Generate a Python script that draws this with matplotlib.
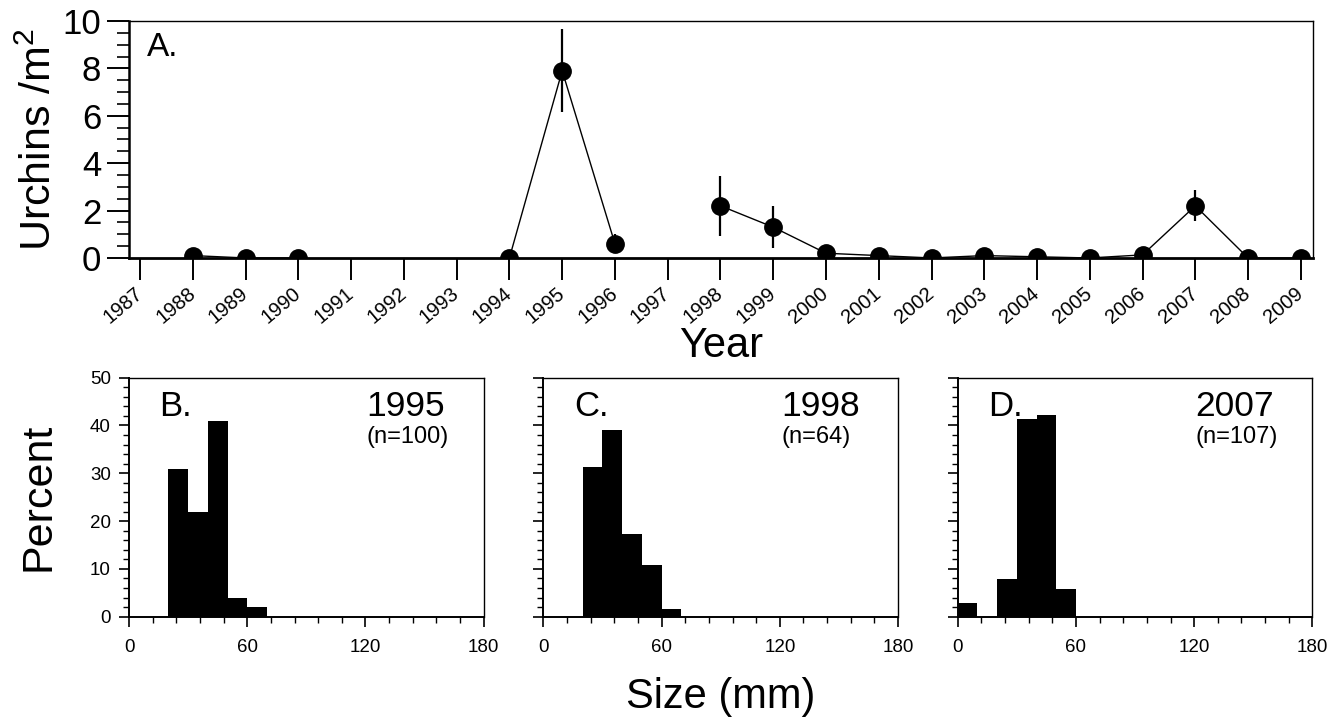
import numpy as np
import matplotlib
matplotlib.use("Agg")
import matplotlib.pyplot as plt
from matplotlib.ticker import MultipleLocator

plt.rcParams['font.family'] = ['Liberation Sans', 'DejaVu Sans']
plt.rcParams['mathtext.default'] = 'regular'

# urchin density per year (nan = no survey)
years = list(range(1987, 2010))
density = [np.nan, 0.1, 0.0, 0.0, np.nan, np.nan, np.nan, 0.0, 7.9, 0.6, np.nan,
           2.2, 1.3, 0.2, 0.1, 0.0, 0.1, 0.05, 0.0, 0.13, 2.2, 0.0, 0.0]
density_err = [0, 0, 0, 0, 0, 0, 0, 0, 1.75, 0.4, 0,
               1.27, 0.9, 0, 0, 0, 0, 0, 0, 0, 0.65, 0, 0]

# size frequency (10 mm bins, left edges)
bins_b = [20, 30, 40, 50, 60]
pct_b = [31, 22, 41, 4, 2]
bins_c = [20, 30, 40, 50, 60]
pct_c = [31.3, 39.1, 17.2, 10.9, 1.6]
bins_d = [0, 20, 30, 40, 50]
pct_d = [2.9, 7.9, 41.3, 42.3, 5.8]

hist_panels = [("B.", "1995", "(n=100)", bins_b, pct_b),
               ("C.", "1998", "(n=64)", bins_c, pct_c),
               ("D.", "2007", "(n=107)", bins_d, pct_d)]

fig = plt.figure(figsize=(13.41, 7.23), dpi=100)

# ---- panel A
ax = fig.add_axes([0.0962, 0.6432, 0.8829, 0.3278])
yrs = np.array(years, dtype=float)
dens = np.array(density)
err = np.array(density_err)
ax.plot(yrs, dens, color='black', lw=1.0, zorder=2)
has_err = err > 0
ax.errorbar(yrs[has_err], dens[has_err], yerr=err[has_err], fmt='none',
            ecolor='black', elinewidth=1.6, capsize=0, zorder=2)
ax.plot(yrs, dens, 'o', color='black', ms=12.5, zorder=3)
ax.set_xlim(1986.79, 2009.23)
ax.set_ylim(0, 10)
ax.set_xticks(years)
ax.set_xticklabels([str(y) for y in years], rotation=40, ha='right',
                   rotation_mode='anchor', va='center', fontsize=14.5)
ax.yaxis.set_major_locator(MultipleLocator(2))
ax.yaxis.set_minor_locator(MultipleLocator(0.5))
ax.tick_params(axis='x', direction='out', length=16, width=1.4, pad=8)
ax.tick_params(axis='y', which='major', direction='out', length=16, width=1.4,
               labelsize=25, pad=4)
ax.tick_params(axis='y', which='minor', direction='out', length=8.5, width=1.2)
for s in ['top', 'right']:
    ax.spines[s].set_linewidth(1.0)
ax.spines['bottom'].set_linewidth(2.0)
ax.spines['left'].set_linewidth(1.8)
ax.set_ylabel('Urchins /m$^2$', fontsize=31, labelpad=2)
ax.text(0.015, 0.887, 'A.', transform=ax.transAxes, fontsize=24,
        ha='left', va='center')
fig.text(0.5377, 0.506, 'Year', fontsize=30, ha='center', va='baseline')

# ---- panels B-D
lefts = [0.0962, 0.4052, 0.7142]
for i, (lab, yr, n, bins, pct) in enumerate(hist_panels):
    hx = fig.add_axes([lefts[i], 0.147, 0.2645, 0.3306])
    hx.bar(bins, pct, width=10, align='edge', color='black', edgecolor='black',
           linewidth=0)
    hx.set_xlim(0, 180)
    hx.set_ylim(0, 50)
    hx.xaxis.set_major_locator(MultipleLocator(60))
    hx.xaxis.set_minor_locator(MultipleLocator(12))
    hx.yaxis.set_major_locator(MultipleLocator(10))
    hx.yaxis.set_minor_locator(MultipleLocator(2))
    hx.tick_params(which='major', direction='out', length=7, width=1.2,
                   labelsize=13.5, pad=6)
    hx.tick_params(axis='x', which='major', pad=9)
    hx.tick_params(which='minor', direction='out', length=4, width=1.0)
    for s in hx.spines.values():
        s.set_linewidth(1.0)
    hx.spines['bottom'].set_linewidth(1.4)
    hx.spines['left'].set_linewidth(1.4)
    if i > 0:
        hx.set_yticklabels([])
    else:
        hx.set_ylabel('Percent', fontsize=31, labelpad=23)
    hx.text(0.086, 0.88, lab, transform=hx.transAxes, fontsize=25,
            ha='left', va='center')
    hx.text(0.67, 0.88, yr, transform=hx.transAxes, fontsize=25.5,
            ha='left', va='center')
    hx.text(0.67, 0.752, n, transform=hx.transAxes, fontsize=17,
            ha='left', va='center')

fig.text(0.5377, 0.021, 'Size (mm)', fontsize=30, ha='center', va='baseline')

fig.savefig('out.png', dpi=100)
